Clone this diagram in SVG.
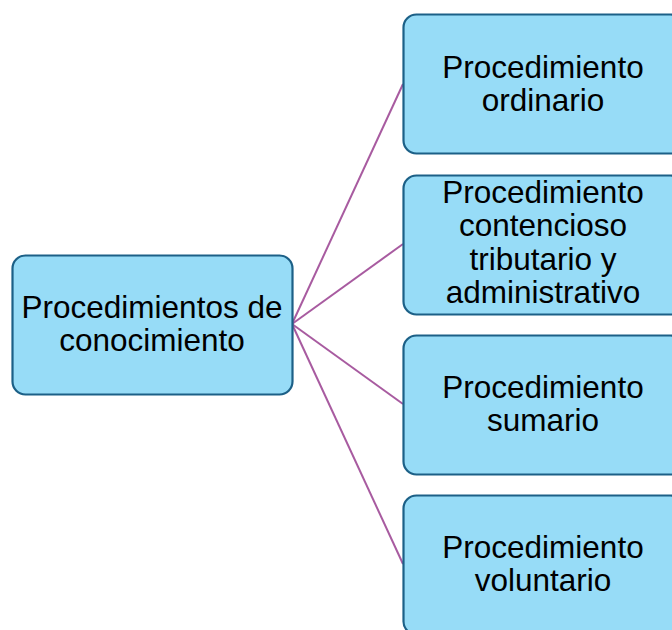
<svg xmlns="http://www.w3.org/2000/svg" width="672" height="630" viewBox="0 0 672 630">
<style>
.box{fill:#97dcf7;stroke:#1c6087;stroke-width:2.2}
.t{font-family:"Liberation Sans",Arial,sans-serif;font-size:31.5px;fill:#000;text-anchor:middle}
.c{stroke:#a85ba0;stroke-width:2;fill:none}
</style>
<rect width="672" height="630" fill="#fff"/>
<g id="connectors">
<line class="c" x1="292" y1="324" x2="403" y2="84"/>
<line class="c" x1="292" y1="324" x2="403" y2="244"/>
<line class="c" x1="292" y1="324" x2="403" y2="404"/>
<line class="c" x1="292" y1="324" x2="403" y2="564"/>
</g>
<g id="root">
<rect class="box" x="12.5" y="255.5" width="280" height="139" rx="13"/>
<text class="t" x="152" y="318">Procedimientos de</text>
<text class="t" x="152" y="351">conocimiento</text>
</g>
<g id="n1">
<rect class="box" x="403.5" y="14.5" width="280" height="139" rx="13"/>
<text class="t" x="543" y="78">Procedimiento</text>
<text class="t" x="543" y="111">ordinario</text>
</g>
<g id="n2">
<rect class="box" x="403.5" y="175.5" width="280" height="139" rx="13"/>
<text class="t" x="543" y="203">Procedimiento</text>
<text class="t" x="543" y="236">contencioso</text>
<text class="t" x="543" y="270">tributario y</text>
<text class="t" x="543" y="303">administrativo</text>
</g>
<g id="n3">
<rect class="box" x="403.5" y="335.5" width="280" height="139" rx="13"/>
<text class="t" x="543" y="398">Procedimiento</text>
<text class="t" x="543" y="431">sumario</text>
</g>
<g id="n4">
<rect class="box" x="403.5" y="495.5" width="280" height="139" rx="13"/>
<text class="t" x="543" y="558">Procedimiento</text>
<text class="t" x="543" y="591">voluntario</text>
</g>
</svg>
